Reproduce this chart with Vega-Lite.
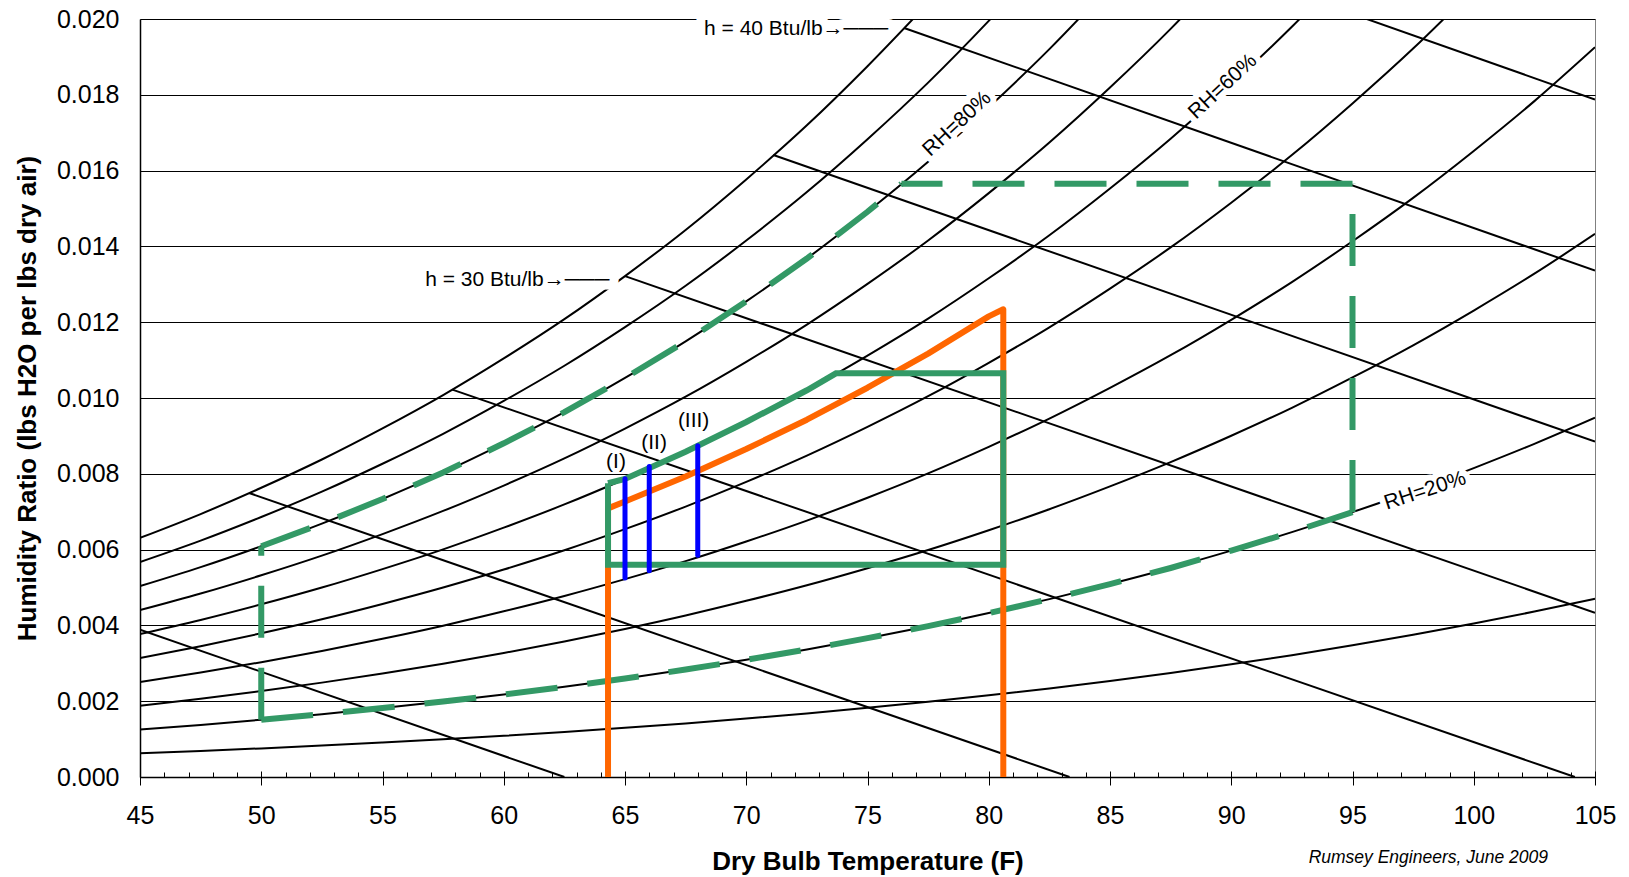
{
"$schema":"https://vega.github.io/schema/vega-lite/v6.json",
"width":1455,"height":758,
"autosize":{"type":"none"},
"padding":{"left":140,"top":19,"right":34,"bottom":100},
"background":"white",
"view":{"stroke":"#808080","strokeWidth":1},
"config":{"font":"Liberation Sans","view":{"stroke":"#808080","strokeWidth":1}},
"resolve":{"axis":{"x":"independent","y":"independent"}},
"datasets":{
"rh":[
{"rh":100,"t":45,"w":0.006309},{"rh":100,"t":47.5,"w":0.006938},{"rh":100,"t":50,"w":0.007631},{"rh":100,"t":52.5,"w":0.008377},{"rh":100,"t":55,"w":0.009197},{"rh":100,"t":57.5,"w":0.010077},{"rh":100,"t":60,"w":0.011044},{"rh":100,"t":62.5,"w":0.01208},{"rh":100,"t":65,"w":0.013217},{"rh":100,"t":67.5,"w":0.014435},{"rh":100,"t":70,"w":0.015768},{"rh":100,"t":72.5,"w":0.017195},{"rh":100,"t":75,"w":0.018755},{"rh":100,"t":77.5,"w":0.020423},
{"rh":90,"t":45,"w":0.005672},{"rh":90,"t":47.5,"w":0.006237},{"rh":90,"t":50,"w":0.00686},{"rh":90,"t":52.5,"w":0.007529},{"rh":90,"t":55,"w":0.008265},{"rh":90,"t":57.5,"w":0.009055},{"rh":90,"t":60,"w":0.009922},{"rh":90,"t":62.5,"w":0.010851},{"rh":90,"t":65,"w":0.01187},{"rh":90,"t":67.5,"w":0.012962},{"rh":90,"t":70,"w":0.014155},{"rh":90,"t":72.5,"w":0.015433},{"rh":90,"t":75,"w":0.016828},{"rh":90,"t":77.5,"w":0.018321},{"rh":90,"t":80,"w":0.019949},{"rh":90,"t":82.5,"w":0.02169},
{"rh":80,"t":45,"w":0.005037},{"rh":80,"t":47.5,"w":0.005538},{"rh":80,"t":50,"w":0.00609},{"rh":80,"t":52.5,"w":0.006684},{"rh":80,"t":55,"w":0.007336},{"rh":80,"t":57.5,"w":0.008036},{"rh":80,"t":60,"w":0.008804},{"rh":80,"t":62.5,"w":0.009627},{"rh":80,"t":65,"w":0.010529},{"rh":80,"t":67.5,"w":0.011495},{"rh":80,"t":70,"w":0.01255},{"rh":80,"t":72.5,"w":0.01368},{"rh":80,"t":75,"w":0.014914},{"rh":80,"t":77.5,"w":0.016232},{"rh":80,"t":80,"w":0.01767},{"rh":80,"t":82.5,"w":0.019205},{"rh":80,"t":85,"w":0.020878},
{"rh":70,"t":45,"w":0.004403},{"rh":70,"t":47.5,"w":0.004841},{"rh":70,"t":50,"w":0.005322},{"rh":70,"t":52.5,"w":0.00584},{"rh":70,"t":55,"w":0.006409},{"rh":70,"t":57.5,"w":0.00702},{"rh":70,"t":60,"w":0.00769},{"rh":70,"t":62.5,"w":0.008407},{"rh":70,"t":65,"w":0.009193},{"rh":70,"t":67.5,"w":0.010035},{"rh":70,"t":70,"w":0.010955},{"rh":70,"t":72.5,"w":0.011937},{"rh":70,"t":75,"w":0.013011},{"rh":70,"t":77.5,"w":0.014157},{"rh":70,"t":80,"w":0.015406},{"rh":70,"t":82.5,"w":0.016741},{"rh":70,"t":85,"w":0.018192},{"rh":70,"t":87.5,"w":0.019739},{"rh":70,"t":90,"w":0.021423},
{"rh":60,"t":45,"w":0.00377},{"rh":60,"t":47.5,"w":0.004144},{"rh":60,"t":50,"w":0.004556},{"rh":60,"t":52.5,"w":0.004999},{"rh":60,"t":55,"w":0.005486},{"rh":60,"t":57.5,"w":0.006007},{"rh":60,"t":60,"w":0.006579},{"rh":60,"t":62.5,"w":0.007192},{"rh":60,"t":65,"w":0.007863},{"rh":60,"t":67.5,"w":0.008582},{"rh":60,"t":70,"w":0.009366},{"rh":60,"t":72.5,"w":0.010204},{"rh":60,"t":75,"w":0.011119},{"rh":60,"t":77.5,"w":0.012095},{"rh":60,"t":80,"w":0.013159},{"rh":60,"t":82.5,"w":0.014294},{"rh":60,"t":85,"w":0.015528},{"rh":60,"t":87.5,"w":0.016843},{"rh":60,"t":90,"w":0.018273},{"rh":60,"t":92.5,"w":0.019795},{"rh":60,"t":95,"w":0.021448},
{"rh":50,"t":45,"w":0.003138},{"rh":50,"t":47.5,"w":0.00345},{"rh":50,"t":50,"w":0.003792},{"rh":50,"t":52.5,"w":0.004161},{"rh":50,"t":55,"w":0.004565},{"rh":50,"t":57.5,"w":0.004998},{"rh":50,"t":60,"w":0.005473},{"rh":50,"t":62.5,"w":0.005982},{"rh":50,"t":65,"w":0.006539},{"rh":50,"t":67.5,"w":0.007135},{"rh":50,"t":70,"w":0.007785},{"rh":50,"t":72.5,"w":0.00848},{"rh":50,"t":75,"w":0.009238},{"rh":50,"t":77.5,"w":0.010047},{"rh":50,"t":80,"w":0.010928},{"rh":50,"t":82.5,"w":0.011866},{"rh":50,"t":85,"w":0.012887},{"rh":50,"t":87.5,"w":0.013973},{"rh":50,"t":90,"w":0.015153},{"rh":50,"t":92.5,"w":0.016409},{"rh":50,"t":95,"w":0.017772},{"rh":50,"t":97.5,"w":0.019219},{"rh":50,"t":100,"w":0.020787},
{"rh":40,"t":45,"w":0.002508},{"rh":40,"t":47.5,"w":0.002757},{"rh":40,"t":50,"w":0.00303},{"rh":40,"t":52.5,"w":0.003324},{"rh":40,"t":55,"w":0.003646},{"rh":40,"t":57.5,"w":0.003992},{"rh":40,"t":60,"w":0.004371},{"rh":40,"t":62.5,"w":0.004776},{"rh":40,"t":65,"w":0.00522},{"rh":40,"t":67.5,"w":0.005695},{"rh":40,"t":70,"w":0.006213},{"rh":40,"t":72.5,"w":0.006766},{"rh":40,"t":75,"w":0.007369},{"rh":40,"t":77.5,"w":0.008011},{"rh":40,"t":80,"w":0.008711},{"rh":40,"t":82.5,"w":0.009457},{"rh":40,"t":85,"w":0.010267},{"rh":40,"t":87.5,"w":0.011129},{"rh":40,"t":90,"w":0.012064},{"rh":40,"t":92.5,"w":0.013059},{"rh":40,"t":95,"w":0.014136},{"rh":40,"t":97.5,"w":0.01528},{"rh":40,"t":100,"w":0.016519},{"rh":40,"t":102.5,"w":0.017833},{"rh":40,"t":105,"w":0.019255},
{"rh":30,"t":45,"w":0.001879},{"rh":30,"t":47.5,"w":0.002065},{"rh":30,"t":50,"w":0.00227},{"rh":30,"t":52.5,"w":0.00249},{"rh":30,"t":55,"w":0.002731},{"rh":30,"t":57.5,"w":0.002989},{"rh":30,"t":60,"w":0.003272},{"rh":30,"t":62.5,"w":0.003575},{"rh":30,"t":65,"w":0.003907},{"rh":30,"t":67.5,"w":0.004261},{"rh":30,"t":70,"w":0.004648},{"rh":30,"t":72.5,"w":0.00506},{"rh":30,"t":75,"w":0.00551},{"rh":30,"t":77.5,"w":0.005989},{"rh":30,"t":80,"w":0.006511},{"rh":30,"t":82.5,"w":0.007066},{"rh":30,"t":85,"w":0.007668},{"rh":30,"t":87.5,"w":0.008309},{"rh":30,"t":90,"w":0.009004},{"rh":30,"t":92.5,"w":0.009742},{"rh":30,"t":95,"w":0.010543},{"rh":30,"t":97.5,"w":0.011391},{"rh":30,"t":100,"w":0.012308},{"rh":30,"t":102.5,"w":0.01328},{"rh":30,"t":105,"w":0.014331},
{"rh":20,"t":45,"w":0.001252},{"rh":20,"t":47.5,"w":0.001375},{"rh":20,"t":50,"w":0.001511},{"rh":20,"t":52.5,"w":0.001658},{"rh":20,"t":55,"w":0.001818},{"rh":20,"t":57.5,"w":0.00199},{"rh":20,"t":60,"w":0.002178},{"rh":20,"t":62.5,"w":0.002379},{"rh":20,"t":65,"w":0.002599},{"rh":20,"t":67.5,"w":0.002834},{"rh":20,"t":70,"w":0.003091},{"rh":20,"t":72.5,"w":0.003365},{"rh":20,"t":75,"w":0.003663},{"rh":20,"t":77.5,"w":0.00398},{"rh":20,"t":80,"w":0.004325},{"rh":20,"t":82.5,"w":0.004693},{"rh":20,"t":85,"w":0.005091},{"rh":20,"t":87.5,"w":0.005515},{"rh":20,"t":90,"w":0.005974},{"rh":20,"t":92.5,"w":0.006461},{"rh":20,"t":95,"w":0.006989},{"rh":20,"t":97.5,"w":0.007547},{"rh":20,"t":100,"w":0.008151},{"rh":20,"t":102.5,"w":0.008791},{"rh":20,"t":105,"w":0.009481},
{"rh":10,"t":45,"w":0.000625},{"rh":10,"t":47.5,"w":0.000687},{"rh":10,"t":50,"w":0.000755},{"rh":10,"t":52.5,"w":0.000828},{"rh":10,"t":55,"w":0.000908},{"rh":10,"t":57.5,"w":0.000993},{"rh":10,"t":60,"w":0.001087},{"rh":10,"t":62.5,"w":0.001187},{"rh":10,"t":65,"w":0.001297},{"rh":10,"t":67.5,"w":0.001414},{"rh":10,"t":70,"w":0.001542},{"rh":10,"t":72.5,"w":0.001678},{"rh":10,"t":75,"w":0.001826},{"rh":10,"t":77.5,"w":0.001984},{"rh":10,"t":80,"w":0.002155},{"rh":10,"t":82.5,"w":0.002338},{"rh":10,"t":85,"w":0.002535},{"rh":10,"t":87.5,"w":0.002745},{"rh":10,"t":90,"w":0.002973},{"rh":10,"t":92.5,"w":0.003214},{"rh":10,"t":95,"w":0.003475},{"rh":10,"t":97.5,"w":0.003751},{"rh":10,"t":100,"w":0.004049},{"rh":10,"t":102.5,"w":0.004365},{"rh":10,"t":105,"w":0.004704}
],
"hl":[
{"h":15,"t":45,"w":0.003885},{"h":15,"t":62.5,"w":0},
{"h":20,"t":49.5,"w":0.007492},{"h":20,"t":83.33,"w":0},
{"h":25,"t":57.88,"w":0.010222},{"h":25,"t":104.17,"w":0},
{"h":30,"t":65,"w":0.013217},{"h":30,"t":105,"w":0.004334},
{"h":35,"t":71.12,"w":0.01641},{"h":35,"t":105,"w":0.008848},
{"h":40,"t":76.51,"w":0.019763},{"h":40,"t":105,"w":0.013362},
{"h":45,"t":85,"w":0.022389},{"h":45,"t":105,"w":0.017876}
],
"zone":[
{"seg":"A","i":1,"t":50,"w":0.001511},{"seg":"A","i":2,"t":50,"w":0.00609},
{"seg":"B","i":1,"t":50,"w":0.001511},{"seg":"B","i":2,"t":52.5,"w":0.001658},{"seg":"B","i":3,"t":55,"w":0.001818},{"seg":"B","i":4,"t":57.5,"w":0.00199},{"seg":"B","i":5,"t":60,"w":0.002178},{"seg":"B","i":6,"t":62.5,"w":0.002379},{"seg":"B","i":7,"t":65,"w":0.002599},{"seg":"B","i":8,"t":67.5,"w":0.002834},{"seg":"B","i":9,"t":70,"w":0.003091},{"seg":"B","i":10,"t":72.5,"w":0.003365},{"seg":"B","i":11,"t":75,"w":0.003663},{"seg":"B","i":12,"t":77.5,"w":0.00398},{"seg":"B","i":13,"t":80,"w":0.004325},{"seg":"B","i":14,"t":82.5,"w":0.004693},{"seg":"B","i":15,"t":85,"w":0.005091},{"seg":"B","i":16,"t":87.5,"w":0.005515},{"seg":"B","i":17,"t":90,"w":0.005974},{"seg":"B","i":18,"t":92.5,"w":0.006461},{"seg":"B","i":19,"t":95,"w":0.006989},
{"seg":"C","i":1,"t":95,"w":0.006989},{"seg":"C","i":2,"t":95,"w":0.015652},
{"seg":"D","i":1,"t":95,"w":0.015652},{"seg":"D","i":2,"t":76.4,"w":0.015652},
{"seg":"E","i":1,"t":50,"w":0.00609},{"seg":"E","i":2,"t":52.5,"w":0.006684},{"seg":"E","i":3,"t":55,"w":0.007336},{"seg":"E","i":4,"t":57.5,"w":0.008036},{"seg":"E","i":5,"t":60,"w":0.008804},{"seg":"E","i":6,"t":62.5,"w":0.009627},{"seg":"E","i":7,"t":65,"w":0.010529},{"seg":"E","i":8,"t":67.5,"w":0.011495},{"seg":"E","i":9,"t":70,"w":0.01255},{"seg":"E","i":10,"t":72.5,"w":0.01368},{"seg":"E","i":11,"t":75,"w":0.014914},{"seg":"E","i":12,"t":76.4,"w":0.015652}
],
"orange":[
{"i":1,"t":64.3,"w":0},{"i":2,"t":64.3,"w":0.007087},{"i":3,"t":65,"w":0.007267},{"i":4,"t":67.5,"w":0.007929},{"i":5,"t":70,"w":0.008653},{"i":6,"t":72.5,"w":0.009427},{"i":7,"t":75,"w":0.010271},{"i":8,"t":77.5,"w":0.011172},{"i":9,"t":80,"w":0.012153},{"i":10,"t":80.6,"w":0.01234},{"i":11,"t":80.6,"w":0}
],
"green":[
{"i":1,"t":64.3,"w":0.00775},{"i":2,"t":64.3,"w":0.0056},{"i":3,"t":80.6,"w":0.0056},{"i":4,"t":80.6,"w":0.01065},{"i":5,"t":73.7,"w":0.01065},{"i":6,"t":72.5,"w":0.010204},{"i":7,"t":70,"w":0.009366},{"i":8,"t":67.5,"w":0.008582},{"i":9,"t":65,"w":0.007863},{"i":10,"t":64.3,"w":0.00775}
],
"blue":[
{"id":"I","t":65,"w":0.00525},{"id":"I","t":65,"w":0.00787},
{"id":"II","t":66,"w":0.00544},{"id":"II","t":66,"w":0.00819},
{"id":"III","t":68,"w":0.00585},{"id":"III","t":68,"w":0.00874}
],
"labels":[
{"g":"rh43","label":"RH=80%","t":78.7,"w":0.01723},
{"g":"rh43","label":"RH=60%","t":89.65,"w":0.01821},
{"g":"rh20","label":"RH=20%","t":98.0,"w":0.00755},
{"g":"hlab","label":"h = 40 Btu/lb→───","t":68.26,"w":0.01958},
{"g":"hlab","label":"h = 30 Btu/lb→───","t":56.76,"w":0.01296},
{"g":"roman","label":"(I)","t":64.63,"w":0.0083},
{"g":"roman","label":"(II)","t":66.2,"w":0.00881},
{"g":"roman","label":"(III)","t":67.83,"w":0.00938}
],
"note":[{"label":"Rumsey Engineers, June 2009","t":103.06,"w":-0.00227}]
},
"layer":[
{"data":{"name":"rh"},
 "mark":{"type":"line","color":"black","strokeWidth":2,"interpolate":"monotone","clip":true},
 "encoding":{
  "x":{"field":"t","type":"quantitative","scale":{"domain":[45,105],"nice":false,"zero":false},
   "axis":{"orient":"bottom","values":[45,46,47,48,49,50,51,52,53,54,55,56,57,58,59,60,61,62,63,64,65,66,67,68,69,70,71,72,73,74,75,76,77,78,79,80,81,82,83,84,85,86,87,88,89,90,91,92,93,94,95,96,97,98,99,100,101,102,103,104,105],
    "labelExpr":"datum.value % 5 === 0 ? datum.label : ''","labelOverlap":false,"labelFlush":false,
    "tickSize":{"condition":{"test":"datum.value % 5 === 0","value":8},"value":-5},
    "tickColor":"black","tickWidth":1,"domainColor":"black","domainWidth":1.5,"grid":false,
    "labelFontSize":25,"labelColor":"black","labelPadding":18,"labelFont":"Liberation Sans",
    "title":"Dry Bulb Temperature (F)","titleFontSize":26,"titleFontWeight":"bold","titleColor":"black","titlePadding":20,"titleFont":"Liberation Sans"}},
  "y":{"field":"w","type":"quantitative","scale":{"domain":[0,0.02],"nice":false,"zero":false},
   "axis":{"orient":"left","values":[0,0.002,0.004,0.006,0.008,0.01,0.012,0.014,0.016,0.018,0.02],"format":".3f",
    "grid":true,"gridColor":"black","gridWidth":1,"gridOpacity":1,"ticks":false,"tickSize":0,
    "domainColor":"black","domainWidth":1.5,"labelFontSize":25,"labelColor":"black","labelPadding":21,"labelFont":"Liberation Sans",
    "title":"Humidity Ratio (lbs H2O per lbs dry air)","titleFontSize":26,"titleFontWeight":"bold","titleColor":"black","titlePadding":16,"titleFont":"Liberation Sans"}},
  "detail":{"field":"rh","type":"nominal"}}},
{"data":{"name":"hl"},
 "mark":{"type":"line","color":"black","strokeWidth":2,"clip":true},
 "encoding":{
  "x":{"field":"t","type":"quantitative","scale":{"domain":[45,105],"nice":false,"zero":false},
   "axis":{"orient":"bottom","values":[45,50,55,60,65,70,75,80,85,90,95,100,105],"tickSize":-6,"labels":false,"domain":false,"grid":false,"title":null,"tickColor":"black","tickWidth":1}},
  "y":{"field":"w","type":"quantitative","scale":{"domain":[0,0.02],"nice":false,"zero":false},"axis":null},
  "detail":{"field":"h","type":"nominal"}}},
{"data":{"name":"zone"},
 "mark":{"type":"line","color":"#339966","strokeWidth":6,"strokeDash":[52,30],"clip":true},
 "encoding":{
  "x":{"field":"t","type":"quantitative","scale":{"domain":[45,105],"nice":false,"zero":false},"axis":null},
  "y":{"field":"w","type":"quantitative","scale":{"domain":[0,0.02],"nice":false,"zero":false},"axis":null},
  "detail":{"field":"seg","type":"nominal"},
  "order":{"field":"i","type":"quantitative"}}},
{"data":{"name":"orange"},
 "mark":{"type":"line","color":"#FF6600","strokeWidth":6,"strokeCap":"round","strokeJoin":"round","clip":true},
 "encoding":{
  "x":{"field":"t","type":"quantitative","scale":{"domain":[45,105],"nice":false,"zero":false},"axis":null},
  "y":{"field":"w","type":"quantitative","scale":{"domain":[0,0.02],"nice":false,"zero":false},"axis":null},
  "order":{"field":"i","type":"quantitative"}}},
{"data":{"name":"green"},
 "mark":{"type":"line","color":"#339966","strokeWidth":6,"strokeJoin":"miter","clip":true},
 "encoding":{
  "x":{"field":"t","type":"quantitative","scale":{"domain":[45,105],"nice":false,"zero":false},"axis":null},
  "y":{"field":"w","type":"quantitative","scale":{"domain":[0,0.02],"nice":false,"zero":false},"axis":null},
  "order":{"field":"i","type":"quantitative"}}},
{"data":{"name":"blue"},
 "mark":{"type":"line","color":"#0000FF","strokeWidth":5,"strokeCap":"round","clip":true},
 "encoding":{
  "x":{"field":"t","type":"quantitative","scale":{"domain":[45,105],"nice":false,"zero":false},"axis":null},
  "y":{"field":"w","type":"quantitative","scale":{"domain":[0,0.02],"nice":false,"zero":false},"axis":null},
  "detail":{"field":"id","type":"nominal"}}},
{"data":{"name":"labels"},"transform":[{"filter":"datum.g === 'rh43'"}],
 "mark":{"type":"text","angle":-43,"align":"center","baseline":"middle","fontSize":21,"font":"Liberation Sans","fill":"white","stroke":"white","strokeWidth":12,"strokeJoin":"round"},
 "encoding":{"x":{"field":"t","type":"quantitative","scale":{"domain":[45,105],"nice":false,"zero":false},"axis":null},"y":{"field":"w","type":"quantitative","scale":{"domain":[0,0.02],"nice":false,"zero":false},"axis":null},"text":{"field":"label"}}},
{"data":{"name":"labels"},"transform":[{"filter":"datum.g === 'rh43'"}],
 "mark":{"type":"text","angle":-43,"align":"center","baseline":"middle","fontSize":21,"font":"Liberation Sans","fill":"black"},
 "encoding":{"x":{"field":"t","type":"quantitative","scale":{"domain":[45,105],"nice":false,"zero":false},"axis":null},"y":{"field":"w","type":"quantitative","scale":{"domain":[0,0.02],"nice":false,"zero":false},"axis":null},"text":{"field":"label"}}},
{"data":{"name":"labels"},"transform":[{"filter":"datum.g === 'rh20'"}],
 "mark":{"type":"text","angle":-18,"align":"center","baseline":"middle","fontSize":21,"font":"Liberation Sans","fill":"white","stroke":"white","strokeWidth":12,"strokeJoin":"round"},
 "encoding":{"x":{"field":"t","type":"quantitative","scale":{"domain":[45,105],"nice":false,"zero":false},"axis":null},"y":{"field":"w","type":"quantitative","scale":{"domain":[0,0.02],"nice":false,"zero":false},"axis":null},"text":{"field":"label"}}},
{"data":{"name":"labels"},"transform":[{"filter":"datum.g === 'rh20'"}],
 "mark":{"type":"text","angle":-18,"align":"center","baseline":"middle","fontSize":21,"font":"Liberation Sans","fill":"black"},
 "encoding":{"x":{"field":"t","type":"quantitative","scale":{"domain":[45,105],"nice":false,"zero":false},"axis":null},"y":{"field":"w","type":"quantitative","scale":{"domain":[0,0.02],"nice":false,"zero":false},"axis":null},"text":{"field":"label"}}},
{"data":{"name":"labels"},"transform":[{"filter":"datum.g === 'hlab'"}],
 "mark":{"type":"text","align":"left","baseline":"alphabetic","fontSize":21,"font":"Liberation Sans","fill":"white","stroke":"white","strokeWidth":18,"strokeJoin":"round"},
 "encoding":{"x":{"field":"t","type":"quantitative","scale":{"domain":[45,105],"nice":false,"zero":false},"axis":null},"y":{"field":"w","type":"quantitative","scale":{"domain":[0,0.02],"nice":false,"zero":false},"axis":null},"text":{"field":"label"}}},
{"data":{"name":"labels"},"transform":[{"filter":"datum.g === 'hlab'"}],
 "mark":{"type":"text","align":"left","baseline":"alphabetic","fontSize":21,"font":"Liberation Sans","fill":"black"},
 "encoding":{"x":{"field":"t","type":"quantitative","scale":{"domain":[45,105],"nice":false,"zero":false},"axis":null},"y":{"field":"w","type":"quantitative","scale":{"domain":[0,0.02],"nice":false,"zero":false},"axis":null},"text":{"field":"label"}}},
{"data":{"name":"labels"},"transform":[{"filter":"datum.g === 'roman'"}],
 "mark":{"type":"text","align":"center","baseline":"middle","fontSize":21,"font":"Liberation Sans","fill":"black"},
 "encoding":{"x":{"field":"t","type":"quantitative","scale":{"domain":[45,105],"nice":false,"zero":false},"axis":null},"y":{"field":"w","type":"quantitative","scale":{"domain":[0,0.02],"nice":false,"zero":false},"axis":null},"text":{"field":"label"}}},
{"data":{"name":"note"},
 "mark":{"type":"text","align":"right","baseline":"alphabetic","fontSize":17.5,"fontStyle":"italic","font":"Liberation Sans","fill":"black","clip":false},
 "encoding":{"x":{"field":"t","type":"quantitative","scale":{"domain":[45,105],"nice":false,"zero":false},"axis":null},"y":{"field":"w","type":"quantitative","scale":{"domain":[0,0.02],"nice":false,"zero":false},"axis":null},"text":{"field":"label"}}}
]
}
